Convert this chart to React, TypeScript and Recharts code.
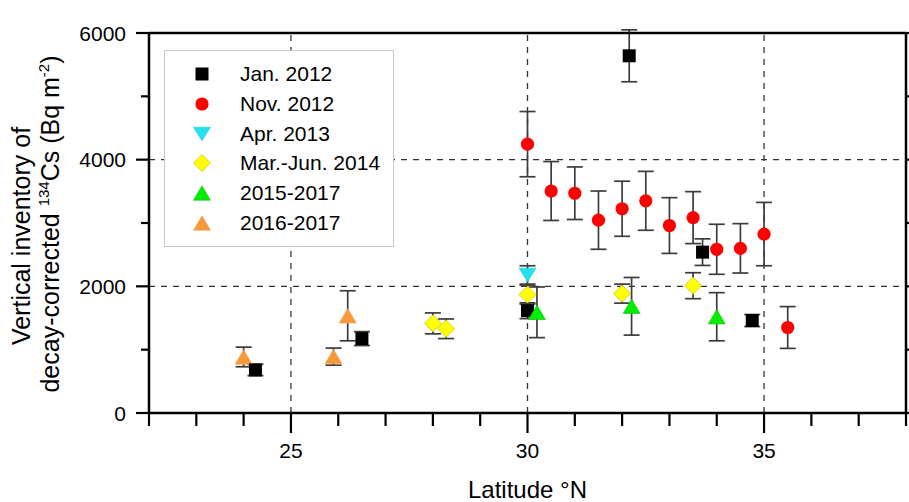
import { ScatterChart, Scatter, XAxis, YAxis, ErrorBar, ReferenceLine, Legend } from "recharts";

const FONT = '"Liberation Sans", Arial, Helvetica, sans-serif';

// Jan. 2012
const jan2012Lat = [24.25, 26.5, 30.0, 32.15, 33.7, 34.75];
const jan2012Val = [680, 1175, 1615, 5640, 2540, 1460];
const jan2012Err = [90, 110, 125, 410, 210, 95];

// Nov. 2012
const nov2012Lat = [30.0, 30.5, 31.0, 31.5, 32.0, 32.5, 33.0, 33.5, 34.0, 34.5, 35.0, 35.5];
const nov2012Val = [4245, 3505, 3470, 3045, 3225, 3350, 2960, 3085, 2585, 2600, 2825, 1350];
const nov2012Err = [515, 465, 415, 460, 435, 465, 440, 410, 395, 390, 500, 330];

// Apr. 2013
const apr2013Lat = [30.0];
const apr2013Val = [2180];
const apr2013Err = [145];

// Mar.-Jun. 2014
const mar2014Lat = [28.0, 28.28, 30.0, 32.0, 33.5];
const mar2014Val = [1415, 1330, 1870, 1885, 2010];
const mar2014Err = [165, 155, 150, 150, 205];

// 2015-2017
const y2015Lat = [30.2, 32.2, 34.0];
const y2015Val = [1590, 1685, 1520];
const y2015Err = [400, 455, 380];

// 2016-2017
const y2016Lat = [24.0, 25.9, 26.2];
const y2016Val = [885, 890, 1535];
const y2016Err = [155, 135, 395];

const xTicks = [22, 23, 24, 25, 26, 27, 28, 29, 30, 31, 32, 33, 34, 35, 36, 37, 38];
const xLabeled = [25, 30, 35];
const yTicks = [0, 1000, 2000, 3000, 4000, 5000, 6000];
const yLabeled = [0, 2000, 4000, 6000];
const xGrid = [25, 30, 35];
const yGrid = [2000, 4000];

const toPoints = (lat: number[], val: number[], err: number[]) =>
  lat.map((x, i) => ({ x, y: val[i], err: err[i] }));

type Kind = "square" | "circle" | "down" | "diamond" | "up";

function Marker({ kind, cx, cy, fill, stroke }: { kind: Kind; cx: number; cy: number; fill: string; stroke: string }) {
  switch (kind) {
    case "square":
      return <rect x={cx - 6.5} y={cy - 6.5} width={13} height={13} fill={fill} />;
    case "circle":
      return <circle cx={cx} cy={cy} r={6.6} fill={fill} />;
    case "down":
      return (
        <path d={`M${cx - 8.5},${cy - 6.8}L${cx + 8.5},${cy - 6.8}L${cx},${cy + 6.8}Z`} fill={fill} stroke={stroke} strokeWidth={0.6} />
      );
    case "up":
      return (
        <path d={`M${cx},${cy - 7.2}L${cx + 8.5},${cy + 7.2}L${cx - 8.5},${cy + 7.2}Z`} fill={fill} stroke={stroke} strokeWidth={0.6} />
      );
    case "diamond":
      return (
        <path d={`M${cx},${cy - 8.5}L${cx + 8.5},${cy}L${cx},${cy + 8.5}L${cx - 8.5},${cy}Z`} fill={fill} stroke={stroke} strokeWidth={0.8} />
      );
  }
  return null;
}

const series = [
  { name: "Jan. 2012", kind: "square" as Kind, fill: "#000000", stroke: "#000000", data: toPoints(jan2012Lat, jan2012Val, jan2012Err) },
  { name: "Nov. 2012", kind: "circle" as Kind, fill: "#ff0000", stroke: "#ff0000", data: toPoints(nov2012Lat, nov2012Val, nov2012Err) },
  { name: "Apr. 2013", kind: "down" as Kind, fill: "#22e2ef", stroke: "#1fc8d4", data: toPoints(apr2013Lat, apr2013Val, apr2013Err) },
  { name: "Mar.-Jun. 2014", kind: "diamond" as Kind, fill: "#ffff00", stroke: "#d6c800", data: toPoints(mar2014Lat, mar2014Val, mar2014Err) },
  { name: "2015-2017", kind: "up" as Kind, fill: "#00ee00", stroke: "#10c010", data: toPoints(y2015Lat, y2015Val, y2015Err) },
  { name: "2016-2017", kind: "up" as Kind, fill: "#f7983a", stroke: "#f0a050", data: toPoints(y2016Lat, y2016Val, y2016Err) },
];

// orange drawn below black in the original
const drawOrder = [series[5], series[0], series[1], series[2], series[3], series[4]];

const BottomTick = ({ x, y, payload }: any) => {
  const major = xLabeled.includes(payload.value);
  return (
    <g>
      <line x1={x} y1={y} x2={x} y2={y + (major ? 20 : 13)} stroke="#000" strokeWidth={2.2} />
      {major && (
        <text x={x} y={y + 45} textAnchor="middle" fontSize={21} fontFamily={FONT} fill="#000">
          {payload.value}
        </text>
      )}
    </g>
  );
};

const TopTick = ({ x, y, payload }: any) => {
  const major = xLabeled.includes(payload.value);
  return <line x1={x} y1={y} x2={x} y2={y - (major ? 19 : 13)} stroke="#000" strokeWidth={2.2} />;
};

const LeftTick = ({ x, y, payload }: any) => {
  const major = yLabeled.includes(payload.value);
  return (
    <g>
      <line x1={x} y1={y} x2={x - (major ? 13 : 8)} y2={y} stroke="#000" strokeWidth={2.2} />
      {major && (
        <text x={x - 23} y={y + 7.5} textAnchor="end" fontSize={21} fontFamily={FONT} fill="#000">
          {payload.value}
        </text>
      )}
    </g>
  );
};

const RightTick = ({ x, y, payload }: any) => {
  const major = yLabeled.includes(payload.value);
  return <line x1={x} y1={y} x2={x + (major ? 13 : 8)} y2={y} stroke="#000" strokeWidth={2.2} />;
};

const renderLegend = () => (
  <div
    style={{
      width: 230,
      height: 197,
      boxSizing: "border-box",
      border: "1px solid #c8c8c8",
      background: "#fff",
      position: "relative",
      fontFamily: FONT,
      fontSize: 21,
      color: "#000",
    }}
  >
    {series.map((s, i) => (
      <div
        key={s.name}
        style={{ position: "absolute", left: 0, top: 23 + i * 29.75 - 15, height: 30, display: "flex", alignItems: "center" }}
      >
        <svg width={75} height={30} style={{ display: "block" }}>
          <Marker kind={s.kind} cx={37} cy={15} fill={s.fill} stroke={s.stroke} />
        </svg>
        <span style={{ whiteSpace: "nowrap" }}>{s.name}</span>
      </div>
    ))}
  </div>
);

const YLabel = () => (
  <g fontFamily={FONT} fontSize={25} fill="#000">
    <text x={30} y={236} transform="rotate(-90, 30, 236)" textAnchor="middle">
      Vertical inventory of
    </text>
    <text x={58.5} y={224} transform="rotate(-90, 58.5, 224)" textAnchor="middle">
      decay-corrected <tspan fontSize={15} dy={-10}>134</tspan>
      <tspan dy={10}>Cs (Bq m</tspan>
      <tspan fontSize={15} dy={-10}>-2</tspan>
      <tspan dy={10}>)</tspan>
    </text>
  </g>
);

const XLabel = () => (
  <text x={527.5} y={498} textAnchor="middle" fontFamily={FONT} fontSize={24} fill="#000">
    Latitude °N
  </text>
);

export default function App() {
  return (
    <div style={{ position: "absolute", left: 0, top: 0, background: "#fff" }}>
      <ScatterChart width={909} height={502} margin={{ top: 30, right: 0, bottom: 86, left: 146 }}>
        <XAxis
          xAxisId="b"
          type="number"
          dataKey="x"
          orientation="bottom"
          domain={[22, 38]}
          ticks={xTicks}
          interval={0}
          height={3}
          tickSize={0}
          tickMargin={0}
          tickLine={false}
          tick={<BottomTick />}
          axisLine={{ stroke: "#000", strokeWidth: 2.5 }}
          allowDataOverflow
          label={{ content: () => <XLabel /> }}
        />
        <XAxis
          xAxisId="t"
          type="number"
          orientation="top"
          domain={[22, 38]}
          ticks={xTicks}
          interval={0}
          height={3}
          tickSize={0}
          tickMargin={0}
          tickLine={false}
          tick={<TopTick />}
          axisLine={{ stroke: "#000", strokeWidth: 2.5 }}
          allowDataOverflow
        />
        <YAxis
          yAxisId="l"
          type="number"
          dataKey="y"
          orientation="left"
          domain={[0, 6000]}
          ticks={yTicks}
          interval={0}
          width={3}
          tickSize={0}
          tickMargin={0}
          tickLine={false}
          tick={<LeftTick />}
          axisLine={{ stroke: "#000", strokeWidth: 2.5 }}
          allowDataOverflow
          label={{ content: () => <YLabel /> }}
        />
        <YAxis
          yAxisId="r"
          type="number"
          orientation="right"
          domain={[0, 6000]}
          ticks={yTicks}
          interval={0}
          width={3}
          tickSize={0}
          tickMargin={0}
          tickLine={false}
          tick={<RightTick />}
          axisLine={{ stroke: "#000", strokeWidth: 2.5 }}
          allowDataOverflow
        />
        {xGrid.map((g) => (
          <ReferenceLine key={`x${g}`} x={g} xAxisId="b" yAxisId="l" stroke="#333" strokeWidth={1.3} strokeDasharray="6 6" />
        ))}
        {yGrid.map((g) => (
          <ReferenceLine key={`y${g}`} y={g} xAxisId="b" yAxisId="l" stroke="#333" strokeWidth={1.3} strokeDasharray="6 6" />
        ))}
        {drawOrder.map((s) => (
          <Scatter
            key={s.name}
            name={s.name}
            data={s.data}
            xAxisId="b"
            yAxisId="l"
            fill={s.fill}
            isAnimationActive={false}
            shape={(p: any) => <Marker kind={s.kind} cx={p.cx} cy={p.cy} fill={s.fill} stroke={s.stroke} />}
          >
            <ErrorBar dataKey="err" direction="y" width={8} stroke="#3c3c3c" strokeWidth={1.7} />
          </Scatter>
        ))}
        <Legend
          layout="horizontal"
          verticalAlign="middle"
          align="center"
          content={renderLegend}
          wrapperStyle={{ left: 164, top: 50, width: 230, height: 197 }}
        />
      </ScatterChart>
    </div>
  );
}
